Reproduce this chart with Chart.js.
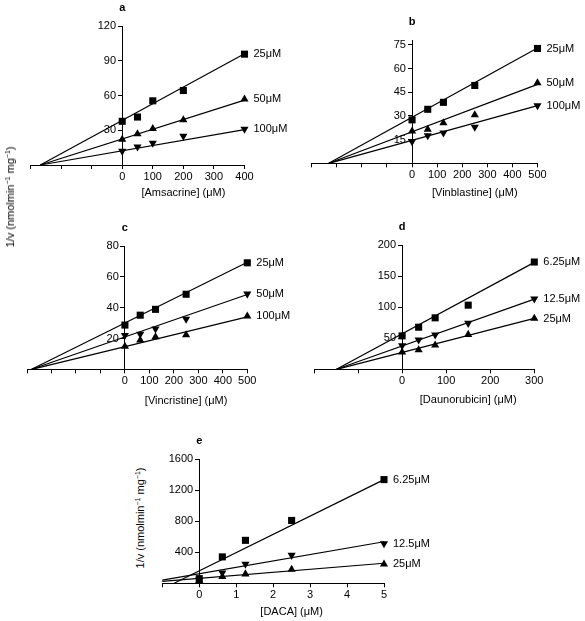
<!DOCTYPE html>
<html>
<head>
<meta charset="utf-8">
<script src="https://cdn.jsdelivr.net/npm/chart.js@4.4.1/dist/chart.umd.min.js"></script>
<style>
    html, body { margin: 0; padding: 0; background: #fff; }
    body { width: 585px; height: 621px; position: relative; overflow: hidden;
           font-family: 'Liberation Sans', Arial, sans-serif; font-size: 11px; color: #000; }
    canvas { position: absolute; }
    .ytitle { position: absolute; white-space: nowrap; transform: translate(-50%, -50%) rotate(-90deg); }
    .ytitle sup { font-size: 7px; vertical-align: 4px; line-height: 0; }
</style>
</head>
<body>
<canvas id="chart-a"></canvas>
<canvas id="chart-b"></canvas>
<canvas id="chart-c"></canvas>
<canvas id="chart-d"></canvas>
<canvas id="chart-e"></canvas>
<div class="ytitle" style="left:10px; top:197px;">1/v (nmolmin<sup>−1</sup> mg<sup>−1</sup>)</div>
<div class="ytitle" style="left:140px; top:518px;">1/v (nmolmin<sup>−1</sup> mg<sup>−1</sup>)</div>
<script>
// panel a - amsacrine
const amsX = [0, 50, 100, 200, 400];
const ams25 = [37.7, 41.4, 55.4, 64.3, 95.7];
const ams50 = [22, 26.9, 31.4, 38.9, 56.9];
const ams100 = [12, 15.7, 18.9, 24.9, 31.1];
const amsFitX = [-268, 400];
const amsFit25 = [0, 96];
const amsFit50 = [0, 56];
const amsFit100 = [0, 30.5];
const amsTicksX = [-300, -200, -100, 0, 100, 200, 300, 400];
const amsTicksY = [0, 30, 60, 90, 120];

// panel b - vinblastine
const vblX = [0, 62.5, 125, 250, 500];
const vbl25 = [27.5, 34.2, 38.6, 49.3, 72.7];
const vbl50 = [20.3, 21.5, 25.6, 30.6, 50.9];
const vbl100 = [13.8, 17.5, 19.3, 22.9, 36.5];
const vblFitX = [-332, 500];
const vblFit25 = [0, 73];
const vblFit50 = [0, 50];
const vblFit100 = [0, 36.5];
const vblTicksX = [-400, -300, -200, -100, 0, 100, 200, 300, 400, 500];
const vblTicksY = [0, 15, 30, 45, 60, 75];

// panel c - vincristine
const vcrX = [0, 62.5, 125, 250, 500];
const vcr25 = [28.7, 35.1, 38.9, 48.7, 69.1];
const vcr50 = [22.1, 22.8, 26.2, 32.6, 48.9];
const vcr100 = [14.9, 18.9, 21, 22.3, 34.5];
const vcrFitX = [-381, 500];
const vcrFit25 = [0, 69.5];
const vcrFit50 = [0, 48.5];
const vcrFit100 = [0, 34];
const vcrTicksX = [-400, -300, -200, -100, 0, 100, 200, 300, 400, 500];
const vcrTicksY = [0, 20, 40, 60, 80];

// panel d - daunorubicin
const dnrX = [0, 37.5, 75, 150, 300];
const dnr625 = [53.8, 67.7, 82.8, 103.2, 172.6];
const dnr125 = [38.2, 47.3, 55.4, 74.2, 113.4];
const dnr25 = [27.4, 31.2, 38.7, 55.9, 81.7];
const dnrFitX = [-149, 300];
const dnrFit625 = [0, 172];
const dnrFit125 = [0, 113];
const dnrFit25 = [0, 82];
const dnrTicksX = [-200, -100, 0, 100, 200, 300];
const dnrTicksY = [0, 50, 100, 150, 200];

// panel e - DACA
const dacaX = [0, 0.625, 1.25, 2.5, 5];
const daca625 = [60, 340, 553, 809, 1335];
const daca125 = [45, 135, 247, 362, 511];
const daca25 = [35, 85, 119, 179, 246];
const dacaFitX625 = [-0.68, 5];
const dacaFitX = [-1, 5];
const dacaFit625 = [0, 1335];
const dacaFit125 = [40, 535];
const dacaFit25 = [25, 258];
const dacaTicksX = [-1, 0, 1, 2, 3, 4, 5];
const dacaTicksY = [0, 400, 800, 1200, 1600];

Chart.defaults.font.family = "'Liberation Sans', Arial, sans-serif";
Chart.defaults.font.size = 11;
Chart.defaults.color = '#000';

// tick mark length + label line height + 2 * tick padding
const AXIS_H = 4 + 13.2 + 2;
const FONT = "11px 'Liberation Sans', Arial, sans-serif";

function pts(xs, ys) {
    return xs.map((x, i) => ({ x: x, y: ys[i] }));
}

function fitLine(xs, ys) {
    return {
        data: pts(xs, ys),
        showLine: true,
        borderColor: '#000',
        borderWidth: 1.2,
        pointRadius: 0,
        clip: false
    };
}

function markers(xs, ys, shape, tag) {
    return {
        data: pts(xs, ys),
        showLine: false,
        pointStyle: shape === 'rect' ? 'rect' : 'triangle',
        rotation: shape === 'down' ? 180 : 0,
        pointRadius: shape === 'rect' ? 5 : 4.7,
        backgroundColor: '#000',
        borderColor: '#000',
        borderWidth: 0,
        clip: false,
        tag: tag
    };
}

// series tags at the last marker, panel letter and x title centred on the positive range
const tagPlugin = {
    id: 'tags',
    afterDatasetsDraw(chart) {
        const ctx = chart.ctx;
        const opts = chart.options.plugins.tags;
        const xs = chart.scales.x;
        ctx.save();
        ctx.fillStyle = '#000';
        ctx.font = FONT;
        ctx.textAlign = 'left';
        ctx.textBaseline = 'middle';
        chart.data.datasets.forEach((ds, i) => {
            if (!ds.tag) return;
            const meta = chart.getDatasetMeta(i);
            const last = meta.data[meta.data.length - 1];
            ctx.fillText(ds.tag, last.x + 9, last.y);
        });

        ctx.textAlign = 'center';
        const x0 = xs.getPixelForValue(0);
        const x1 = xs.getPixelForValue(xs.max);
        ctx.fillText(opts.title, (x0 + x1) / 2, chart.chartArea.bottom + opts.titleDy);

        ctx.font = "bold 11px 'Liberation Sans', Arial, sans-serif";
        ctx.fillText(opts.letter, x0, chart.chartArea.top - 18);
        ctx.restore();
    }
};

function makePanel(id, box, area, xr, yr, xTicks, yTicks, title, titleDy, datasets, letter) {
    const canvas = document.getElementById(id);
    canvas.width = box.w;
    canvas.height = box.h;
    canvas.style.left = box.x + 'px';
    canvas.style.top = box.y + 'px';

    return new Chart(canvas, {
        type: 'scatter',
        data: { datasets: datasets },
        plugins: [tagPlugin],
        options: {
            responsive: false,
            animation: false,
            layout: {
                padding: {
                    left: area.l - box.x,
                    right: box.x + box.w - area.r,
                    top: area.t - box.y,
                    bottom: box.y + box.h - area.b - AXIS_H
                }
            },
            plugins: {
                legend: { display: false },
                tooltip: { enabled: false },
                tags: { letter: letter, title: title, titleDy: titleDy }
            },
            scales: {
                x: {
                    type: 'linear',
                    min: xr[0],
                    max: xr[1],
                    afterBuildTicks: s => { s.ticks = xTicks.map(v => ({ value: v })); },
                    ticks: {
                        padding: 1,
                        maxRotation: 0,
                        autoSkip: false,
                        callback: v => v < 0 ? '' : String(v)
                    },
                    grid: { display: true, drawOnChartArea: false, drawTicks: true, tickLength: 4, color: '#000' },
                    border: { display: true, color: '#000', width: 1 }
                },
                y: {
                    type: 'linear',
                    position: { x: 0 },
                    min: yr[0],
                    max: yr[1],
                    afterBuildTicks: s => { s.ticks = yTicks.map(v => ({ value: v })); },
                    ticks: {
                        autoSkip: false,
                        callback: v => v === 0 ? '' : String(v) + '  '
                    },
                    grid: { display: true, drawOnChartArea: false, drawTicks: true, tickLength: 4, color: '#000' },
                    border: { display: true, color: '#000', width: 1 }
                }
            }
        }
    });
}

makePanel('chart-a', { x: 5, y: 0, w: 290, h: 205 }, { l: 30.5, r: 244.5, t: 26, b: 165 },
    [-300, 400], [0, 120], amsTicksX, amsTicksY, '[Amsacrine] (μM)', 28.3, [
        fitLine(amsFitX, amsFit25),
        fitLine(amsFitX, amsFit50),
        fitLine(amsFitX, amsFit100),
        markers(amsX, ams25, 'rect', '25μM'),
        markers(amsX, ams50, 'up', '50μM'),
        markers(amsX, ams100, 'down', '100μM')
    ], 'a');

makePanel('chart-b', { x: 295, y: 0, w: 290, h: 205 }, { l: 311.7, r: 537.5, t: 40.1, b: 163.3 },
    [-400, 500], [0, 78], vblTicksX, vblTicksY, '[Vinblastine] (μM)', 30, [
        fitLine(vblFitX, vblFit25),
        fitLine(vblFitX, vblFit50),
        fitLine(vblFitX, vblFit100),
        markers(vblX, vbl25, 'rect', '25μM'),
        markers(vblX, vbl50, 'up', '50μM'),
        markers(vblX, vbl100, 'down', '100μM')
    ], 'b');

makePanel('chart-c', { x: 5, y: 215, w: 290, h: 210 }, { l: 27, r: 247.3, t: 246, b: 369.3 },
    [-400, 500], [0, 80], vcrTicksX, vcrTicksY, '[Vincristine] (μM)', 32, [
        fitLine(vcrFitX, vcrFit25),
        fitLine(vcrFitX, vcrFit50),
        fitLine(vcrFitX, vcrFit100),
        markers(vcrX, vcr25, 'rect', '25μM'),
        markers(vcrX, vcr50, 'down', '50μM'),
        markers(vcrX, vcr100, 'up', '100μM')
    ], 'c');

makePanel('chart-d', { x: 295, y: 215, w: 290, h: 210 }, { l: 314, r: 534.3, t: 245, b: 369.3 },
    [-200, 300], [0, 200], dnrTicksX, dnrTicksY, '[Daunorubicin] (μM)', 30.7, [
        fitLine(dnrFitX, dnrFit625),
        fitLine(dnrFitX, dnrFit125),
        fitLine(dnrFitX, dnrFit25),
        markers(dnrX, dnr625, 'rect', '6.25μM'),
        markers(dnrX, dnr125, 'down', '12.5μM'),
        markers(dnrX, dnr25, 'up', '25μM')
    ], 'd');

makePanel('chart-e', { x: 150, y: 430, w: 300, h: 191 }, { l: 162.3, r: 384, t: 459, b: 583.3 },
    [-1, 5], [0, 1600], dacaTicksX, dacaTicksY, '[DACA] (μM)', 28.4, [
        fitLine(dacaFitX625, dacaFit625),
        fitLine(dacaFitX, dacaFit125),
        fitLine(dacaFitX, dacaFit25),
        markers(dacaX, daca625, 'rect', '6.25μM'),
        markers(dacaX, daca125, 'down', '12.5μM'),
        markers(dacaX, daca25, 'up', '25μM')
    ], 'e');
</script>
</body>
</html>
